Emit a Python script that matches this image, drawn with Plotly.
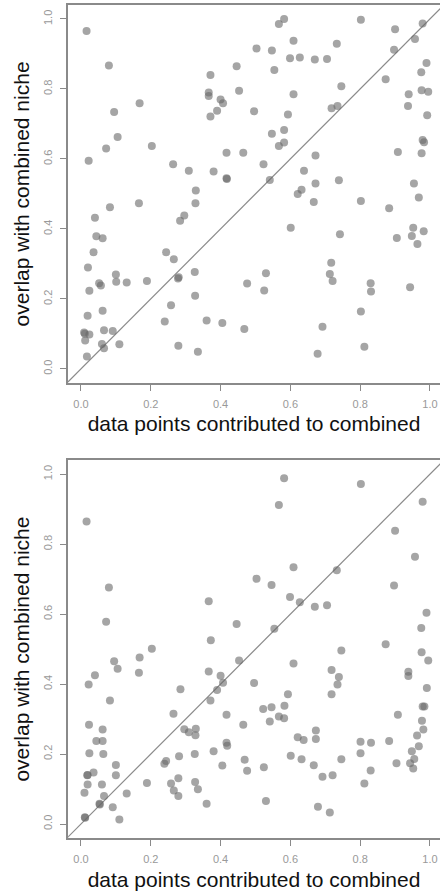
import plotly.graph_objects as go

# Panel 1 data: data points contributed to combined (x) vs overlap with combined niche (y)
x1 = [0.016,0.022,0.080,0.095,0.105,0.072,0.168,0.203,0.264,0.309,0.329,0.328,0.166,0.083,0.040,0.296,0.284,
      0.366,0.366,0.371,0.371,0.390,0.400,0.407,0.380,0.417,0.417,0.418,0.446,0.453,0.465,0.496,0.503,0.523,
      0.541,0.547,0.554,0.547,0.567,0.567,0.582,0.582,0.582,0.593,0.599,0.609,0.609,0.627,0.621,0.632,0.639,
      0.670,0.672,0.672,0.667,0.705,0.733,0.718,0.735,0.746,0.739,0.802,0.802,0.873,0.883,0.897,0.900,0.908,
      0.939,0.937,0.957,0.954,0.968,0.979,0.975,0.990,0.976,0.995,0.992,0.979,0.983,0.976,
      0.044,0.062,0.036,0.020,0.100,0.101,0.131,0.052,0.057,0.024,0.189,0.244,0.266,0.280,0.278,0.326,0.327,
      0.258,0.240,0.062,0.019,0.066,0.091,0.009,0.011,0.024,0.012,0.060,0.066,0.110,0.017,0.279,0.335,0.360,
      0.405,0.468,0.476,0.525,0.530,0.601,0.742,0.717,0.713,0.721,0.692,0.678,0.802,0.812,0.830,0.831,0.905,
      0.952,0.948,0.964,0.982,0.943]
y1 = [0.966,0.595,0.867,0.734,0.663,0.630,0.759,0.637,0.585,0.566,0.510,0.473,0.473,0.462,0.432,0.438,0.423,
      0.790,0.780,0.840,0.721,0.738,0.770,0.759,0.564,0.618,0.545,0.543,0.865,0.795,0.618,0.736,0.916,0.585,
      0.540,0.910,0.854,0.672,0.637,0.986,1.000,0.683,0.647,0.727,0.888,0.938,0.785,0.890,0.500,0.512,0.566,
      0.884,0.610,0.530,0.477,0.886,0.929,0.745,0.751,0.808,0.539,0.998,0.480,0.828,0.459,0.912,0.971,0.620,
      0.785,0.751,0.943,0.530,0.490,0.987,0.848,0.874,0.796,0.792,0.725,0.654,0.648,0.616,
      0.379,0.373,0.333,0.290,0.270,0.249,0.247,0.245,0.238,0.223,0.251,0.333,0.313,0.262,0.258,0.277,0.209,
      0.182,0.135,0.166,0.152,0.110,0.108,0.104,0.100,0.098,0.081,0.071,0.059,0.070,0.035,0.066,0.049,0.138,
      0.131,0.114,0.244,0.224,0.273,0.403,0.385,0.303,0.271,0.251,0.120,0.043,0.164,0.063,0.245,0.221,0.374,
      0.403,0.380,0.357,0.393,0.233]

# Panel 2 data
x2 = [0.016,0.080,0.072,0.095,0.168,0.203,0.366,0.372,0.446,0.453,0.503,0.546,0.554,0.567,0.582,0.599,0.609,
      0.627,0.670,0.705,0.733,0.746,0.802,0.873,0.897,0.900,0.957,0.979,0.990,0.975,0.976,0.995,
      0.609,0.040,0.022,0.166,0.105,0.366,0.400,0.407,0.390,0.285,0.083,0.371,0.496,0.593,0.583,0.522,0.546,
      0.567,0.582,0.541,0.718,0.739,0.735,0.718,0.938,0.938,0.991,0.908,0.984,0.979,0.977,0.981,0.963,0.968,
      0.948,0.955,0.943,0.952,0.904,0.883,0.801,0.831,0.801,0.830,0.812,0.746,0.721,0.713,0.679,0.692,0.667,
      0.673,0.673,0.638,0.621,0.632,0.601,0.524,0.530,0.465,0.469,0.476,0.417,0.417,0.419,0.405,0.380,0.360,
      0.335,0.327,0.326,0.329,0.328,0.309,0.296,0.265,0.281,0.279,0.279,0.266,0.258,0.244,0.239,0.189,0.131,
      0.100,0.100,0.091,0.110,0.062,0.062,0.044,0.064,0.023,0.024,0.036,0.019,0.018,0.019,0.060,0.066,0.010,
      0.053,0.054,0.011,0.012]
y2 = [0.865,0.676,0.578,0.465,0.476,0.501,0.637,0.525,0.572,0.467,0.701,0.683,0.558,0.912,0.988,0.649,0.734,
      0.634,0.621,0.625,0.725,0.496,0.972,0.514,0.682,0.838,0.764,0.921,0.604,0.560,0.491,0.467,
      0.459,0.425,0.399,0.432,0.444,0.436,0.424,0.404,0.383,0.385,0.353,0.353,0.403,0.371,0.338,0.329,0.334,
      0.307,0.302,0.293,0.440,0.420,0.399,0.371,0.435,0.423,0.389,0.312,0.336,0.336,0.295,0.270,0.253,0.222,
      0.208,0.186,0.174,0.159,0.174,0.237,0.235,0.232,0.202,0.153,0.116,0.185,0.139,0.033,0.049,0.135,0.168,
      0.267,0.243,0.240,0.248,0.185,0.195,0.162,0.066,0.284,0.184,0.152,0.312,0.232,0.224,0.167,0.208,0.058,
      0.099,0.120,0.200,0.272,0.254,0.262,0.271,0.315,0.194,0.131,0.080,0.096,0.116,0.180,0.172,0.117,0.087,
      0.169,0.139,0.048,0.013,0.270,0.237,0.237,0.200,0.284,0.202,0.147,0.140,0.139,0.113,0.113,0.080,0.089,
      0.058,0.056,0.019,0.018]

x_tick_vals = [0.0, 0.2, 0.4, 0.6, 0.8, 1.0]
x_tick_text = ["0.0", "0.2", "0.4", "0.6", "0.8", "1.0"]
y_tick_vals = [0.0, 0.2, 0.4, 0.6, 0.8, 1.0]
y_tick_text = ["0.0", "0.2", "0.4", "0.6", "0.8", "1.0"]
diag = [-0.1, 1.2]

x_title = "data points contributed to combined"
y_title = "overlap with combined niche"

marker = dict(size=8, color="rgba(105,105,105,0.6)", line=dict(width=0))
line_style = dict(color="#8a8a8a", width=1.2)

fig = go.Figure()
fig.add_trace(go.Scatter(x=diag, y=diag, mode="lines", line=line_style, xaxis="x", yaxis="y",
                         hoverinfo="skip", showlegend=False))
fig.add_trace(go.Scatter(x=x1, y=y1, mode="markers", marker=marker, xaxis="x", yaxis="y", showlegend=False))
fig.add_trace(go.Scatter(x=diag, y=diag, mode="lines", line=line_style, xaxis="x2", yaxis="y2",
                         hoverinfo="skip", showlegend=False))
fig.add_trace(go.Scatter(x=x2, y=y2, mode="markers", marker=marker, xaxis="x2", yaxis="y2", showlegend=False))

tickfont = dict(family="Liberation Sans, Arial, sans-serif", size=11, color="#999999")
titlefont = dict(family="Liberation Sans, Arial, sans-serif", size=21, color="#111111")

def xax(anchor):
    return dict(range=[-0.0372, 1.0287], anchor=anchor, tickvals=x_tick_vals, ticktext=x_tick_text,
                ticks="outside", ticklen=6, tickcolor="#8a8a8a", tickwidth=1, ticklabelstandoff=4,
                showline=True, linecolor="#8a8a8a", linewidth=1.5, mirror=True,
                showgrid=False, zeroline=False, tickfont=tickfont, automargin=False,
                title=dict(text=x_title, font=titlefont, standoff=8), fixedrange=True)

def yax(anchor, domain):
    return dict(range=[-0.04, 1.04], anchor=anchor, domain=domain, tickvals=y_tick_vals, ticktext=y_tick_text,
                ticks="outside", ticklen=6, tickcolor="#8a8a8a", tickwidth=1, tickangle=-90,
                ticklabelstandoff=4,
                showline=True, linecolor="#8a8a8a", linewidth=1.5, mirror=False,
                showgrid=False, zeroline=False, tickfont=tickfont, automargin=False,
                title=dict(text=y_title, font=titlefont, standoff=6), fixedrange=True)

fig.update_layout(
    width=440, height=892,
    margin=dict(l=68, r=0, t=5, b=54),
    paper_bgcolor="white", plot_bgcolor="white",
    xaxis=xax("y"), yaxis=yax("x", [0.5464, 1.0]),
    xaxis2=xax("y2"), yaxis2=yax("x2", [0.0, 0.4536]),
)

fig.write_html("out.html", config={"displayModeBar": False},
               post_script="document.body.style.margin='0px';document.body.style.overflow='hidden';")
